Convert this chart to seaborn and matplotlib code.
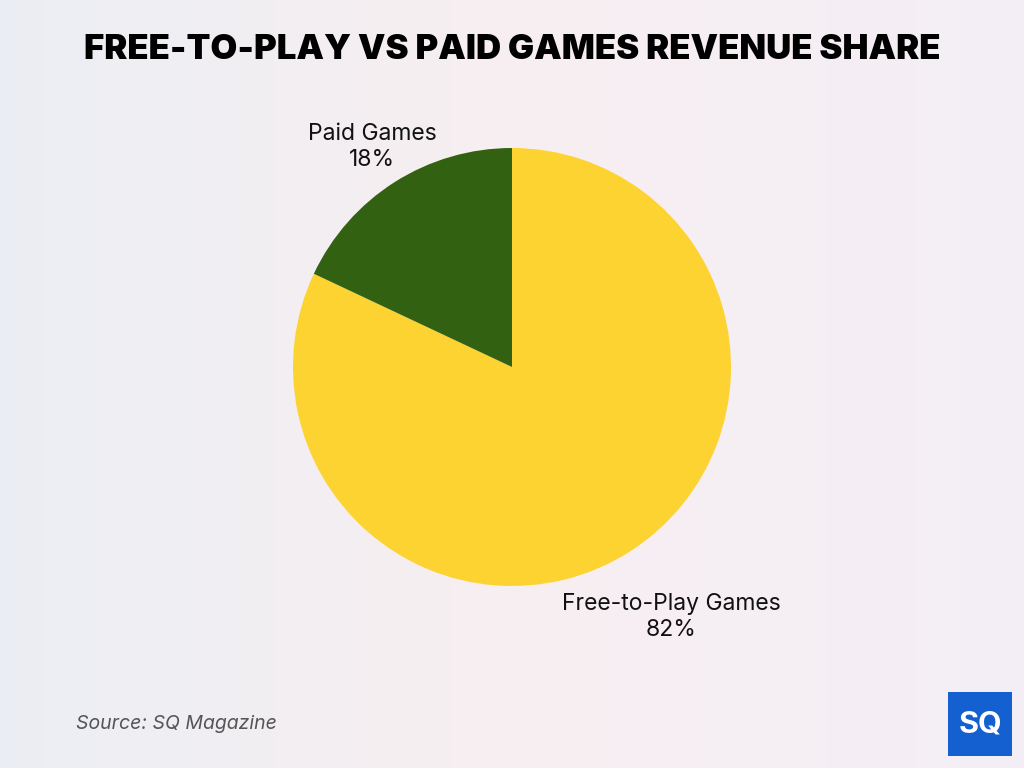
import numpy as np
import matplotlib
matplotlib.use("Agg")
import matplotlib.pyplot as plt
import seaborn as sns
from matplotlib.patches import Rectangle

sns.set_theme(style="white")
plt.rcParams['font.family'] = ['Inter', 'DejaVu Sans']

categories = ["Free-to-Play Games", "Paid Games"]
shares = [82, 18]
colors = ["#FDD331", "#336112"]
title = "FREE-TO-PLAY VS PAID GAMES REVENUE SHARE"
source = "Source: SQ Magazine"

fig = plt.figure(figsize=(10.24, 7.68), dpi=100)

# background gradient
bg = fig.add_axes([0, 0, 1, 1], zorder=-10)
xx, yy = np.meshgrid(np.linspace(0, 1, 512), np.linspace(0, 1, 512))
c_left = np.array([0.925, 0.933, 0.957])
c_mid = np.array([0.970, 0.937, 0.945])
c_right = np.array([0.955, 0.937, 0.965])
t = xx[..., None]
img = np.where(t < 0.5, c_left + (c_mid - c_left) * (t / 0.5), c_mid + (c_right - c_mid) * ((t - 0.5) / 0.5))
bg.imshow(img, aspect="auto", extent=[0, 1, 0, 1], origin="upper", interpolation="bilinear")
bg.axis("off")

cx, cy, r = 512, 367, 219
W, H = 1024, 768
ax = fig.add_axes([(cx - r) / W, (H - cy - r) / H, 2 * r / W, 2 * r / H])
ax.pie(shares, colors=colors, startangle=90, counterclock=False, radius=1,
       wedgeprops=dict(linewidth=0))
ax.set_xlim(-1, 1)
ax.set_ylim(-1, 1)
ax.set_aspect("equal")
ax.axis("off")

ax.text(-0.639, 1.005, f"{categories[1]}\n{shares[1]}%", ha="center", va="center",
        fontsize=16.5, color="#111111", linespacing=1.2, clip_on=False)
ax.text(0.726, -1.142, f"{categories[0]}\n{shares[0]}%", ha="center", va="center",
        fontsize=16.5, color="#111111", linespacing=1.2, clip_on=False)

fig.text(0.5, 1 - 50 / H, title, ha="center", va="center", fontsize=25,
         fontweight="black", color="#000000")
fig.text(76 / W, 1 - 724 / H, source, ha="left", va="center", fontsize=14,
         style="italic", color="#555555")

# logo
lx0, ly0, lw, lh = 948, 692, 64, 64
fig.patches.append(Rectangle((lx0 / W, 1 - (ly0 + lh) / H), lw / W, lh / H,
                             transform=fig.transFigure, facecolor="#1560D0",
                             edgecolor="none", zorder=5))
fig.text((lx0 + lw / 2) / W, 1 - (ly0 + lh / 2) / H, "SQ", ha="center", va="center",
         fontsize=22, fontweight="bold", color="white", zorder=6)

fig.savefig("out.png", dpi=100)
